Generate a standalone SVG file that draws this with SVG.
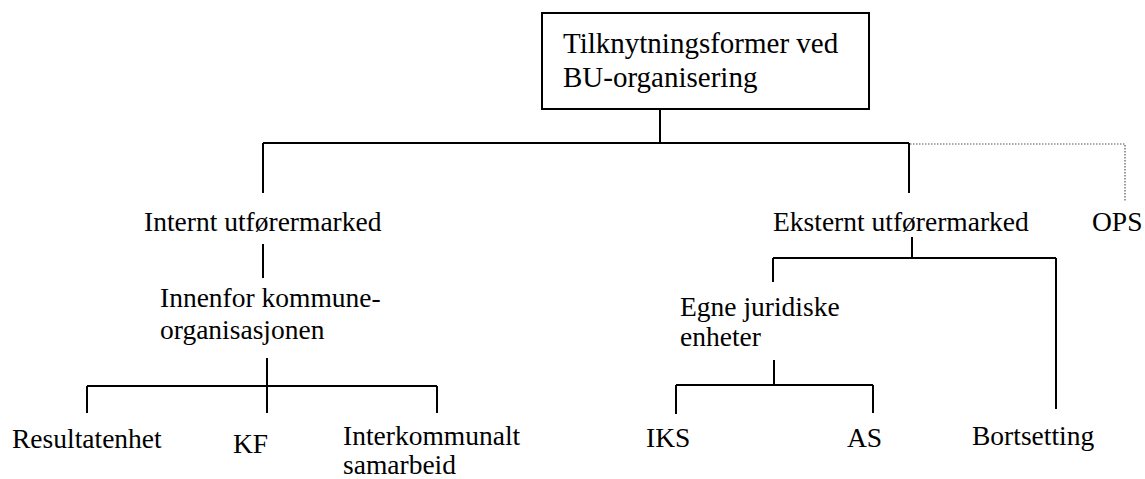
<svg xmlns="http://www.w3.org/2000/svg" width="1145" height="479" viewBox="0 0 1145 479">
<style>
text{font-family:'Liberation Serif','Times New Roman','DejaVu Serif',serif;font-size:27.5px;fill:#000}
.ln{stroke:#000;stroke-width:2;fill:none}
.dot{stroke:#555;stroke-width:1.2;fill:none;stroke-dasharray:1.5 1.5}
</style>
<rect width="1145" height="479" fill="#fff"/>
<g id="connectors">
<path class="ln" d="M660 109V143M263 143H909M263 143V193M909 143V193"/>
<path class="dot" d="M910 144H1125V202"/>
<path class="ln" d="M263 244V278"/>
<path class="ln" d="M267 358V413M87 386H437M87 386V413M437 386V413"/>
<path class="ln" d="M912 237V258M773 258H1056M773 258V282M1056 258V409"/>
<path class="ln" d="M774 360V385M676 385H873M676 385V414M873 385V413"/>
</g>
<g id="root">
<rect x="542" y="13" width="327" height="96" fill="#fff" stroke="#000" stroke-width="2"/>
<text x="563" y="53" style="font-size:29px">Tilknytningsformer ved</text>
<text x="563" y="87" style="font-size:29px">BU-organisering</text>
</g>
<g id="internt"><text x="144" y="231">Internt utførermarked</text></g>
<g id="eksternt"><text x="773" y="231">Eksternt utførermarked</text></g>
<g id="ops"><text x="1092" y="231">OPS</text></g>
<g id="innenfor"><text x="160" y="307">Innenfor kommune-</text><text x="160" y="339">organisasjonen</text></g>
<g id="egne"><text x="680" y="316">Egne juridiske</text><text x="680" y="346">enheter</text></g>
<g id="resultatenhet"><text x="12" y="448">Resultatenhet</text></g>
<g id="kf"><text x="233" y="453">KF</text></g>
<g id="interkommunalt"><text x="343" y="445">Interkommunalt</text><text x="343" y="474">samarbeid</text></g>
<g id="iks"><text x="646" y="447">IKS</text></g>
<g id="as"><text x="847" y="447">AS</text></g>
<g id="bortsetting"><text x="972" y="445">Bortsetting</text></g>
</svg>
